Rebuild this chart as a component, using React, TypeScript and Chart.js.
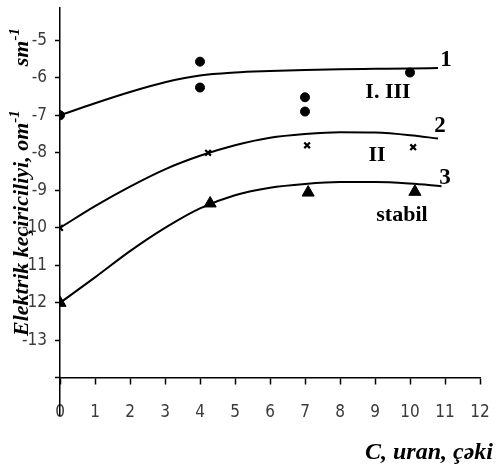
import React, { useEffect, useRef } from 'react';
import { Chart, registerables } from 'chart.js';

Chart.register(...registerables);

// ---- data ----
const xTickValues = [0, 1, 2, 3, 4, 5, 6, 7, 8, 9, 10, 11, 12];
const yTickValues = [-15, -14, -13, -12, -11, -10, -9, -8, -7, -6, -5];
const yLabelLowest = -13;

// measured points
const groupI_III_X = [0, 4, 4, 7, 7, 10];
const groupI_III_Y = [-7, -5.57, -6.26, -6.52, -6.9, -5.86];
const groupII_X = [0, 4.23, 7.06, 10.09];
const groupII_Y = [-10, -8.0, -7.8, -7.85];
const stabil_X = [0, 4.29, 7.09, 10.14];
const stabil_Y = [-12, -9.35, -9.06, -9.04];

// trend curves
const curve1X = [0, 1, 2, 3, 4, 5, 6, 7, 8, 9, 10, 10.8];
const curve1Y = [-7.0, -6.68, -6.38, -6.12, -5.94, -5.86, -5.82, -5.79, -5.77, -5.76, -5.75, -5.74];
const curve2X = [0, 1, 2, 3, 4, 5, 6, 7, 8, 9, 10, 10.8];
const curve2Y = [-10.0, -9.42, -8.9, -8.44, -8.08, -7.8, -7.6, -7.5, -7.45, -7.46, -7.53, -7.62];
const curve3X = [0, 1, 2, 3, 4, 5, 6, 7, 8, 9, 10, 10.9];
const curve3Y = [-12.0, -11.32, -10.62, -10.0, -9.48, -9.13, -8.93, -8.83, -8.78, -8.78, -8.82, -8.89];

const curveNames = ['1', '2', '3'];
const groupNames = ['I. III', 'II', 'stabil'];
const xTitle = 'C, uran, çəki';
// y title pieces: [text, isSuperscript]
const yTitleParts: [string, boolean][] = [
  ['Elektrik keçiriciliyi, om', false],
  ['-1', true],
  ['sm', false],
  ['-1', true],
];

// annotation anchors in data coordinates
const curveNamePos = [
  [11.03, -5.54],
  [10.86, -7.29],
  [11.0, -8.67],
];
const groupNamePos = [
  [9.37, -6.39],
  [9.06, -8.06],
  [9.77, -9.67],
];

const zip = (xs: number[], ys: number[]) => xs.map((x, i) => ({ x, y: ys[i] }));

const tickFont = { family: "'Liberation Sans Narrow', 'DejaVu Sans Condensed', 'Liberation Sans', sans-serif", size: 17 };
const tickColor = '#3a3a3a';

const textPlugin = {
  id: 'textPlugin',
  afterDraw(chart: any) {
    const ctx = chart.ctx;
    const xs = chart.scales.x;
    const ys = chart.scales.y;
    ctx.save();
    ctx.fillStyle = '#000';
    ctx.textAlign = 'center';
    ctx.textBaseline = 'middle';
    ctx.font = "bold 23px 'Liberation Serif', 'Times New Roman', serif";
    curveNames.forEach((t, i) => {
      ctx.fillText(t, xs.getPixelForValue(curveNamePos[i][0]), ys.getPixelForValue(curveNamePos[i][1]));
    });
    ctx.font = "bold 22px 'Liberation Serif', 'Times New Roman', serif";
    groupNames.forEach((t, i) => {
      ctx.fillText(t, xs.getPixelForValue(groupNamePos[i][0]), ys.getPixelForValue(groupNamePos[i][1]));
    });
    // x axis title
    ctx.font = "italic bold 24px 'Liberation Serif', 'Times New Roman', serif";
    ctx.textAlign = 'right';
    ctx.fillText(xTitle, chart.width - 5, chart.height - 20);
    // y axis title (rotated, reading bottom to top)
    ctx.translate(28, 336);
    ctx.rotate(-Math.PI / 2);
    ctx.textAlign = 'left';
    ctx.textBaseline = 'alphabetic';
    let pos = 0;
    yTitleParts.forEach(([t, sup], i) => {
      ctx.font = sup
        ? "italic bold 15px 'Liberation Serif', 'Times New Roman', serif"
        : "italic bold 22px 'Liberation Serif', 'Times New Roman', serif";
      ctx.fillText(t, pos, sup ? -9 : 0);
      pos += ctx.measureText(t).width + (sup ? (i === 1 ? 44 : 2) : 0);
    });
    ctx.restore();
  },
};

export default function App() {
  const ref = useRef<HTMLCanvasElement | null>(null);

  useEffect(() => {
    if (!ref.current) return;
    const lineDs = (xs: number[], ys: number[]) => ({
      data: zip(xs, ys),
      showLine: true,
      borderColor: '#000',
      borderWidth: 2,
      pointRadius: 0,
      cubicInterpolationMode: 'monotone' as const,
      fill: false,
    });
    const chart = new Chart(ref.current, {
      type: 'scatter',
      data: {
        datasets: [
          lineDs(curve1X, curve1Y),
          lineDs(curve2X, curve2Y),
          lineDs(curve3X, curve3Y),
          {
            data: zip(groupI_III_X, groupI_III_Y),
            pointStyle: 'circle',
            pointRadius: 4.5,
            backgroundColor: '#000',
            borderColor: '#000',
            borderWidth: 1,
          },
          {
            data: zip(groupII_X, groupII_Y),
            pointStyle: 'crossRot',
            pointRadius: 4,
            backgroundColor: '#000',
            borderColor: '#000',
            borderWidth: 2.2,
          },
          {
            data: zip(stabil_X, stabil_Y),
            pointStyle: 'triangle',
            pointRadius: 7,
            backgroundColor: '#000',
            borderColor: '#000',
            borderWidth: 1,
          },
        ],
      },
      options: {
        animation: false,
        responsive: true,
        maintainAspectRatio: false,
        layout: { padding: { left: 0, top: 5, right: 18, bottom: 57.6 } },
        plugins: { legend: { display: false }, tooltip: { enabled: false } },
        scales: {
          x: {
            type: 'linear',
            position: { y: -14 } as any,
            min: 0,
            max: 12,
            afterBuildTicks: (s: any) => {
              s.ticks = xTickValues.map((v) => ({ value: v }));
            },
            afterFit: (s: any) => {
              s.paddingLeft = 0;
              s.paddingRight = 0;
            },
            ticks: { font: tickFont, color: tickColor, padding: 18, maxRotation: 0, autoSkip: false },
            grid: { drawOnChartArea: false, drawTicks: true, tickLength: 6, tickColor: '#000', tickWidth: 1.5 },
            border: { display: true, color: '#000', width: 1.5 },
          },
          y: {
            type: 'linear',
            position: 'left',
            min: -15,
            max: -4.14,
            afterBuildTicks: (s: any) => {
              s.ticks = yTickValues.map((v) => ({ value: v }));
            },
            afterFit: (s: any) => {
              s.width = 60;
              s.paddingTop = 0;
              s.paddingBottom = 0;
            },
            ticks: {
              font: tickFont,
              color: tickColor,
              padding: 8,
              autoSkip: false,
              callback: (v: any) => (v >= yLabelLowest ? String(v) : ''),
            },
            grid: {
              drawOnChartArea: false,
              drawTicks: true,
              tickLength: 5,
              tickWidth: 1.5,
              tickColor: (c: any) => (c.tick && c.tick.value < -14 ? 'rgba(0,0,0,0)' : '#000'),
            },
            border: { display: true, color: '#000', width: 1.5 },
          },
        },
      },
      plugins: [textPlugin],
    });
    return () => chart.destroy();
  }, []);

  return (
    <div style={{ position: 'fixed', left: 0, top: 0, width: 498, height: 473, background: '#fff' }}>
      <canvas ref={ref} />
    </div>
  );
}
